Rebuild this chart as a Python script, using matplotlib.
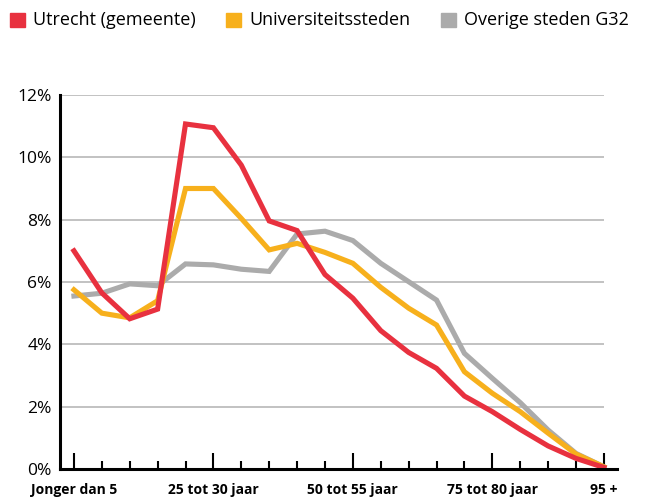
import matplotlib
matplotlib.use("Agg")
import matplotlib.pyplot as plt
from matplotlib.patches import Rectangle

# Age groups (20 categories), only every 5th one gets a label
age_groups = ["Jonger dan 5", "5 tot 10 jaar", "10 tot 15 jaar", "15 tot 20 jaar",
              "20 tot 25 jaar", "25 tot 30 jaar", "30 tot 35 jaar", "35 tot 40 jaar",
              "40 tot 45 jaar", "45 tot 50 jaar", "50 tot 55 jaar", "55 tot 60 jaar",
              "60 tot 65 jaar", "65 tot 70 jaar", "70 tot 75 jaar", "75 tot 80 jaar",
              "80 tot 85 jaar", "85 tot 90 jaar", "90 tot 95 jaar", "95 +"]
label_idx = [0, 5, 10, 15, 19]

utrecht = [7.0, 5.65, 4.82, 5.13, 11.07, 10.95, 9.75, 7.96, 7.65, 6.24,
           5.48, 4.44, 3.74, 3.23, 2.34, 1.84, 1.27, 0.74, 0.34, 0.05]
universiteitssteden = [5.75, 5.0, 4.85, 5.4, 9.0, 9.0, 8.04, 7.03, 7.24, 6.95,
                       6.6, 5.83, 5.16, 4.62, 3.12, 2.43, 1.84, 1.15, 0.48, 0.07]
overige_g32 = [5.55, 5.64, 5.94, 5.88, 6.58, 6.55, 6.41, 6.34, 7.54, 7.63,
               7.33, 6.6, 6.01, 5.42, 3.71, 2.91, 2.13, 1.25, 0.5, 0.07]

series_names = ["Utrecht (gemeente)", "Universiteitssteden", "Overige steden G32"]
colors = ["#e8313f", "#f7b01c", "#ababab"]

plt.rcParams['font.family'] = ['Open Sans', 'DejaVu Sans']

fig = plt.figure(figsize=(6.52, 4.97), dpi=100)
W, H = 652, 497
ax = fig.add_axes([60 / W, (H - 469) / H, (617 - 60) / W, (469 - 95) / H])

x = list(range(len(age_groups)))

# gridlines stop at the last category
yticks = [0, 2, 4, 6, 8, 10, 12]
ax.hlines(yticks[1:], -0.5, 19, color="#bdbdbd", lw=1.3, zorder=1)

ax.plot(x, overige_g32, color=colors[2], lw=3.7, zorder=3, solid_joinstyle="miter")
ax.plot(x, universiteitssteden, color=colors[1], lw=3.7, zorder=4, solid_joinstyle="miter")
ax.plot(x, utrecht, color=colors[0], lw=3.7, zorder=5, solid_joinstyle="miter")

ax.set_xlim(-0.5, 19.47)
ax.set_ylim(0, 12)

for s in ["top", "right"]:
    ax.spines[s].set_visible(False)
ax.spines["left"].set_linewidth(2.2)
ax.spines["bottom"].set_linewidth(2.2)
ax.spines["left"].set_zorder(6)
ax.spines["bottom"].set_zorder(6)

ax.set_yticks(yticks)
ax.set_yticklabels([f"{v}%" for v in yticks])
ax.tick_params(axis="y", length=0, pad=6, labelsize=12.5)

ax.set_xticks(label_idx)
ax.set_xticklabels([age_groups[i] for i in label_idx],
                   fontweight="bold", fontsize=10,
                   family=['Liberation Sans Narrow', 'Open Sans', 'DejaVu Sans'])
ax.set_xticks([i for i in x if i not in label_idx], minor=True)
ax.tick_params(axis="x", which="major", direction="in", length=11.5, width=1.5, pad=10)
ax.tick_params(axis="x", which="minor", direction="in", length=5.8, width=1.5)

# legend across the top
legend_x = [10, 226, 441]
for lx, name, c in zip(legend_x, series_names, colors):
    fig.patches.append(Rectangle((lx / W, (H - 27) / H), 15 / W, 14 / H,
                                 transform=fig.transFigure, color=c))
    fig.text((lx + 23) / W, (H - 20) / H, name, fontsize=13, va="center", ha="left")

fig.savefig("out.png", dpi=100)
